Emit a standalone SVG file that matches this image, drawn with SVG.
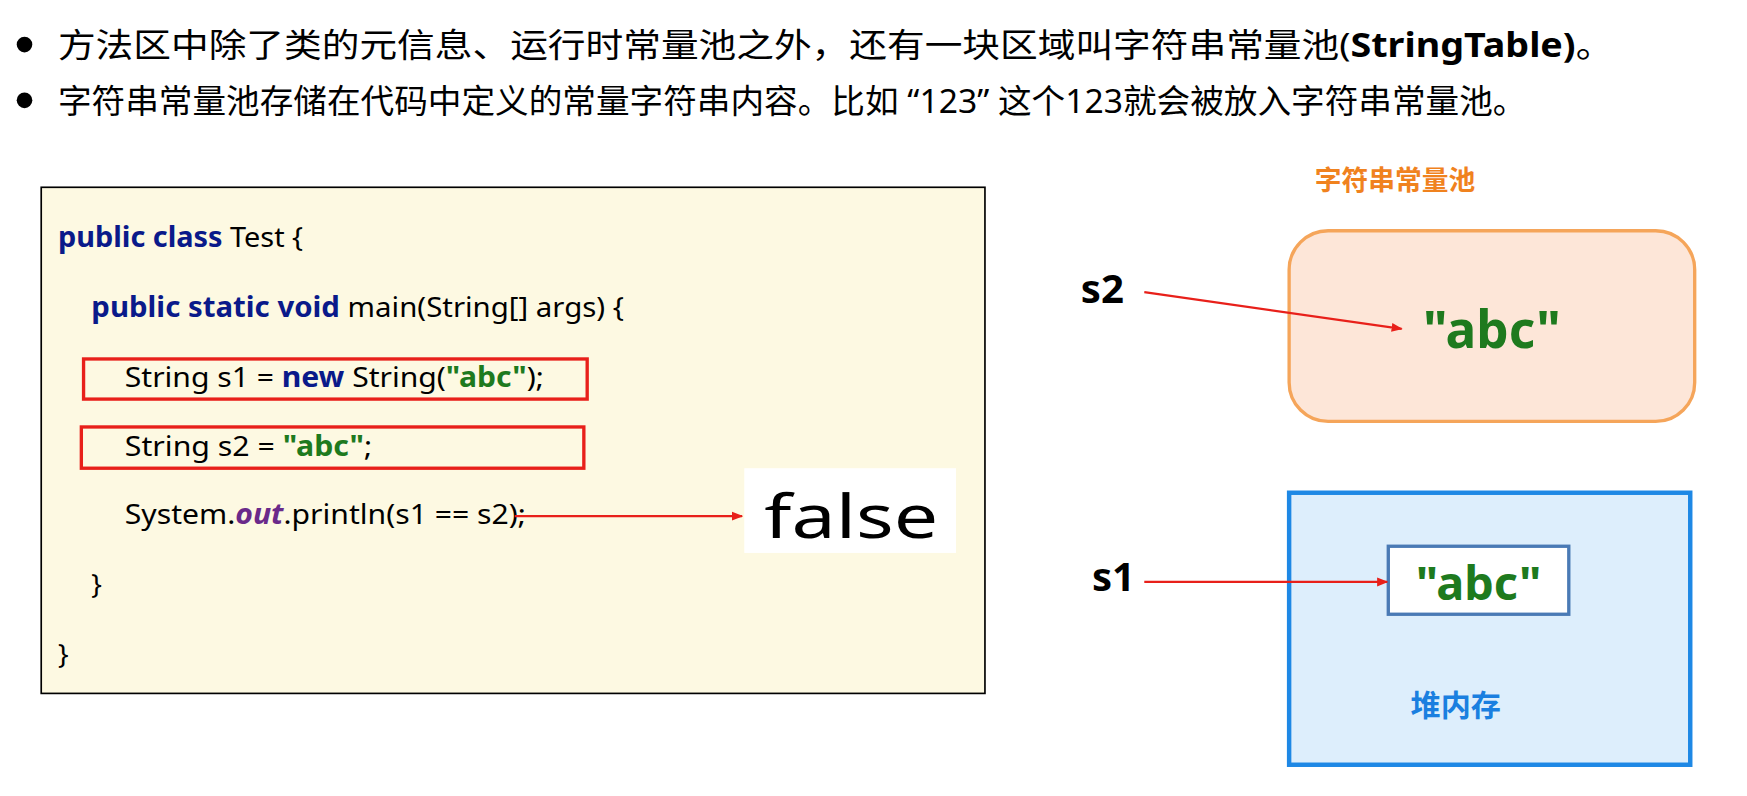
<svg xmlns="http://www.w3.org/2000/svg" width="1747" height="796" viewBox="0 0 1747 796">
<defs>
<marker id="ah" markerWidth="10" markerHeight="10" refX="9" refY="5" orient="auto" markerUnits="userSpaceOnUse"><path d="M0,1 L10,5 L0,9 z" fill="#e8201a"/></marker>
<style>
.t{font-family:"Noto Sans","Noto Sans CJK SC",sans-serif;fill:#000}
.c{font-family:"Noto Sans","Noto Sans CJK SC",sans-serif;font-size:25px;fill:#000}
.k{fill:#0a1a8a;font-weight:bold}
.s{fill:#1e7a1e;font-weight:bold}
.ln{stroke:#e8201a;stroke-width:2;fill:none}
</style>
</defs>
<rect width="1747" height="796" fill="#fff"/>
<g transform="scale(1.1142,1.1148)">
<g id="bullets">
<circle cx="22" cy="40" r="7"/>
<text class="t" x="52" y="51" font-size="30" textLength="1396" lengthAdjust="spacingAndGlyphs">方法区中除了类的元信息、运行时常量池之外，还有一块区域叫字符串常量池(<tspan font-weight="bold">StringTable)</tspan>。</text>
<circle cx="22" cy="90" r="7"/>
<text class="t" x="52" y="101" font-size="30" textLength="1318" lengthAdjust="spacingAndGlyphs">字符串常量池存储在代码中定义的常量字符串内容。比如 “123” 这个123就会被放入字符串常量池。</text>
</g>
<g id="code">
<rect x="37" y="168" width="847" height="454" fill="#fdf9e2" stroke="#000" stroke-width="1.5"/>
<text class="c" x="52" y="222" textLength="220" lengthAdjust="spacingAndGlyphs"><tspan class="k">public class</tspan> Test {</text>
<text class="c" x="82" y="284" textLength="478" lengthAdjust="spacingAndGlyphs"><tspan class="k">public static void</tspan> main(String[] args) {</text>
<rect x="75" y="322" width="452" height="36" fill="none" stroke="#e8201a" stroke-width="3"/>
<text class="c" x="112" y="347" textLength="376" lengthAdjust="spacingAndGlyphs">String s1 = <tspan class="k">new</tspan> String(<tspan class="s">"abc"</tspan>);</text>
<rect x="73" y="383" width="451" height="37" fill="none" stroke="#e8201a" stroke-width="3"/>
<text class="c" x="112" y="409" textLength="222" lengthAdjust="spacingAndGlyphs">String s2 = <tspan class="s">"abc"</tspan>;</text>
<text class="c" x="112" y="470" textLength="360" lengthAdjust="spacingAndGlyphs">System.<tspan font-style="italic" font-weight="bold" fill="#6a2a8a">out</tspan>.println(s1 == s2);</text>
<text class="c" x="82" y="533">}</text>
<text class="c" x="52" y="596">}</text>
</g>
<g id="result">
<rect x="668" y="420" width="190" height="76" fill="#fff"/>
<text class="t" x="686" y="483" font-size="54" textLength="156" lengthAdjust="spacingAndGlyphs">false</text>
</g>
<g id="pool">
<text x="1180" y="170" font-family="Noto Sans CJK SC,sans-serif" font-size="24" font-weight="bold" fill="#f0821e">字符串常量池</text>
<rect x="1157" y="207" width="364" height="171" rx="35" fill="#fde6d8" stroke="#f5a55a" stroke-width="3"/>
<text x="1339" y="312" text-anchor="middle" font-family="Noto Sans,sans-serif" font-size="46" font-weight="bold" fill="#1e7a1e">"abc"</text>
</g>
<g id="heap">
<rect x="1157" y="442" width="360" height="244" fill="#ddeefc" stroke="#1e88e5" stroke-width="4"/>
<rect x="1246" y="490" width="162" height="61" fill="#fff" stroke="#4a7ab5" stroke-width="3"/>
<text x="1327" y="538" text-anchor="middle" font-family="Noto Sans,sans-serif" font-size="42" font-weight="bold" fill="#1e7a1e">"abc"</text>
<text x="1266" y="642" font-family="Noto Sans CJK SC,sans-serif" font-size="27" font-weight="bold" fill="#1a7fe0">堆内存</text>
</g>
<g id="vars">
<text class="t" x="970" y="272" font-size="36" font-weight="bold">s2</text>
<text class="t" x="980" y="530" font-size="36" font-weight="bold">s1</text>
</g>
<g id="connectors">
<line class="ln" x1="462" y1="463" x2="666" y2="463" marker-end="url(#ah)"/>
<line class="ln" x1="1027" y1="262" x2="1258" y2="295" marker-end="url(#ah)"/>
<line class="ln" x1="1027" y1="522" x2="1245" y2="522" marker-end="url(#ah)"/>
</g>
</g>
</svg>
